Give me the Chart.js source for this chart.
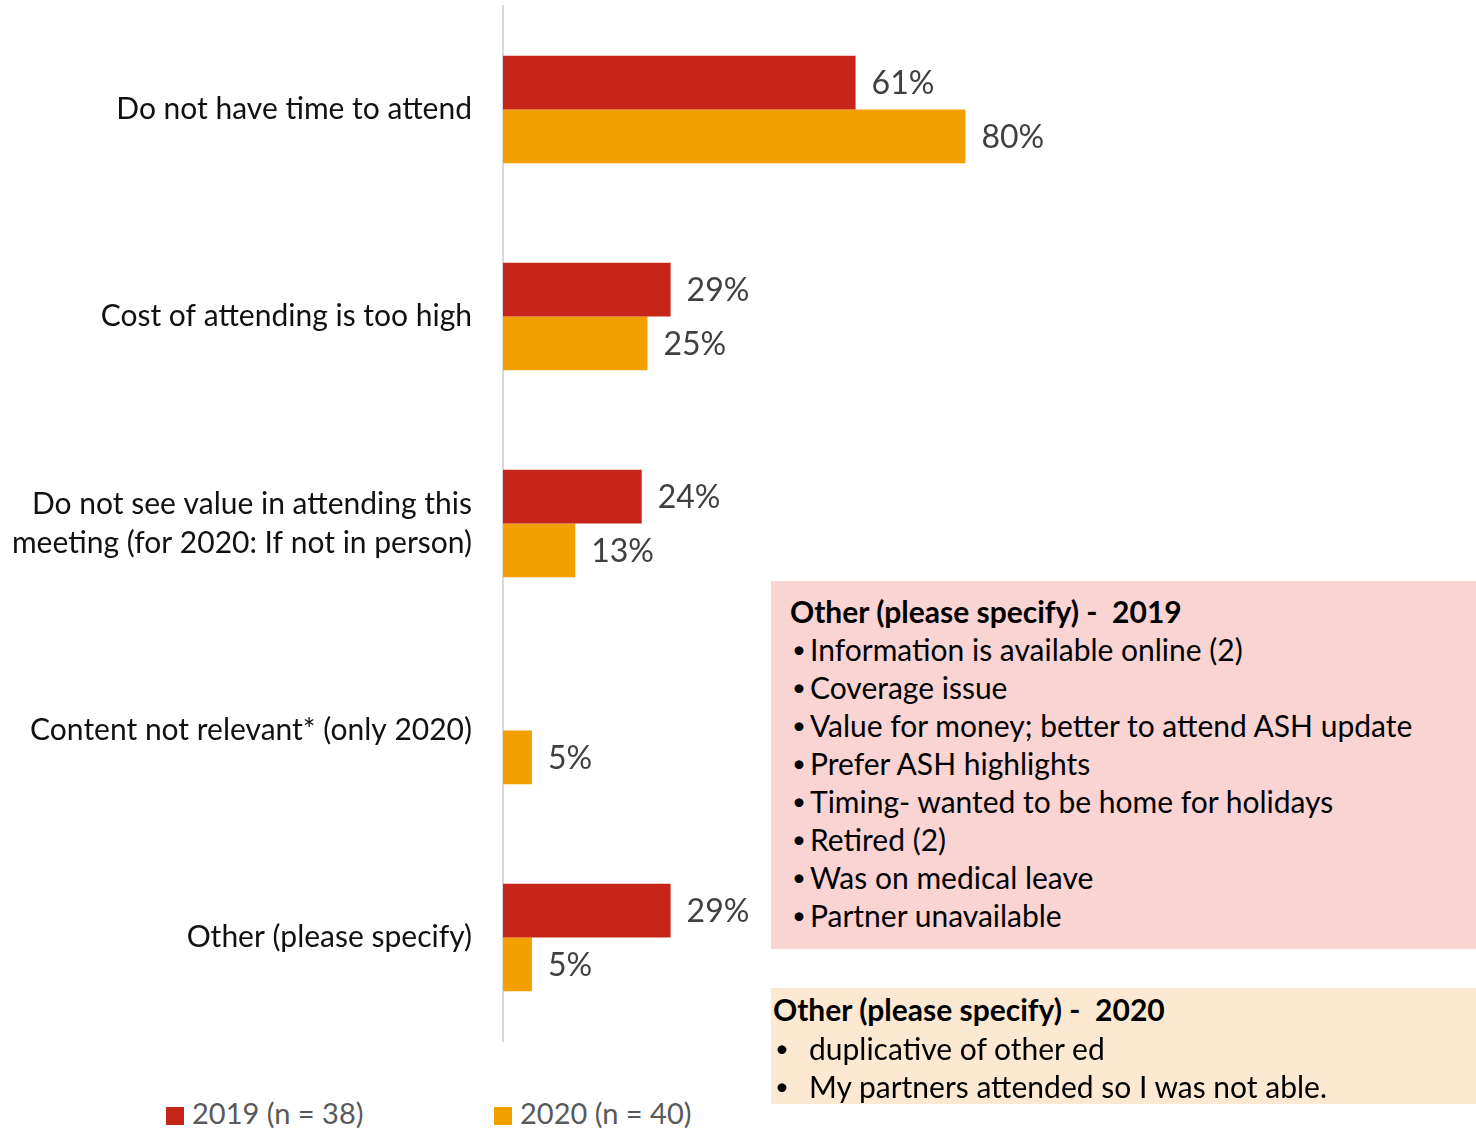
<!DOCTYPE html>
<html>
<head>
<meta charset="utf-8">
<script src="https://cdn.jsdelivr.net/npm/chart.js@4.4.1/dist/chart.umd.min.js"></script>
<style>
  html, body { margin: 0; padding: 0; background: #fff; }
  body { width: 1476px; height: 1129px; position: relative; overflow: hidden; font-family: Lato, sans-serif; }
  #wrap { position: absolute; left: 0; top: 0; width: 1081px; height: 1045px; }
  .legend { position: absolute; top: 1094px; font-size: 29px; color: #595959; line-height: 38px; white-space: nowrap; }
  .legend i { display: inline-block; width: 18px; height: 18px; vertical-align: -1px; margin-right: 8px; }
  .box { position: absolute; left: 771px; width: 705px; color: #000; font-size: 30px; white-space: pre; }
  .box .t { font-weight: bold; }
  .box .l { position: relative; }
  .box .l::before { content: '\2022'; position: absolute; font-size: 24px; }
  #b2019 { top: 581px; height: 368px; background: #f9d4d3; box-sizing: border-box; padding-top: 11px; line-height: 38px; }
  #b2019 .t { padding-left: 19px; }
  #b2019 .l { padding-left: 39px; }
  #b2019 .l::before { left: 21px; }
  #b2020 { top: 988px; height: 116px; background: #fde9d1; box-sizing: border-box; padding-top: 2px; line-height: 38.5px; }
  #b2020 .t { padding-left: 2px; }
  #b2020 .l { padding-left: 38px; }
  #b2020 .l::before { left: 4px; }
</style>
</head>
<body>
<div id="wrap"><canvas id="c"></canvas></div>

<div class="legend" style="left:166px"><i style="background:#c8251a"></i>2019 (n = 38)</div>
<div class="legend" style="left:494px"><i style="background:#f39f00"></i>2020 (n = 40)</div>

<div class="box" id="b2019"></div>
<div class="box" id="b2020"></div>

<script>
// Categorías (eje Y) — la tercera va en dos líneas como en el original
const categories = [
  'Do not have time to attend',
  'Cost of attending is too high',
  ['Do not see value in attending this', 'meeting (for 2020: If not in person)'],
  'Content not relevant* (only 2020)',
  'Other (please specify)'
]
// Porcentajes (null = sin barra en 2019)
const values2019 = [61, 29, 24, null, 29]
const values2020 = [80, 25, 12.5, 5, 5]
const seriesNames = ['2019 (n = 38)', '2020 (n = 40)']

// Textos de las cajas "Other"
const other2019Title = 'Other (please specify) -  2019'
const other2019 = [
  'Information is available online (2)',
  'Coverage issue',
  'Value for money; better to attend ASH update',
  'Prefer ASH highlights',
  'Timing- wanted to be home for holidays',
  'Retired (2)',
  'Was on medical leave',
  'Partner unavailable'
]
const other2020Title = 'Other (please specify) -  2020'
const other2020 = [
  'duplicative of other ed',
  'My partners attended so I was not able.'
]

const RED = '#c8251a'
const ORANGE = '#f39f00'

function fillBox(id, title, lines) {
  const el = document.getElementById(id)
  const t = document.createElement('div')
  t.className = 't'
  t.textContent = title
  el.appendChild(t)
  lines.forEach(s => {
    const d = document.createElement('div')
    d.className = 'l'
    d.textContent = s
    el.appendChild(d)
  })
}
fillBox('b2019', other2019Title, other2019)
fillBox('b2020', other2020Title, other2020)

// Etiquetas de valor a la derecha de cada barra
const valueLabels = {
  id: 'valueLabels',
  afterDatasetsDraw(chart) {
    const ctx = chart.ctx
    ctx.save()
    ctx.font = '32px Lato, sans-serif'
    ctx.fillStyle = '#404040'
    ctx.textAlign = 'left'
    ctx.textBaseline = 'middle'
    chart.data.datasets.forEach((ds, di) => {
      const meta = chart.getDatasetMeta(di)
      meta.data.forEach((bar, i) => {
        const v = ds.data[i]
        if (v == null) return
        ctx.fillText(Math.round(v) + '%', bar.x + 16, bar.y + 1)
      })
    })
    ctx.restore()
  }
}

new Chart(document.getElementById('c'), {
  type: 'bar',
  data: {
    labels: categories,
    datasets: [
      { label: seriesNames[0], data: values2019, backgroundColor: RED },
      { label: seriesNames[1], data: values2020, backgroundColor: ORANGE }
    ]
  },
  options: {
    indexAxis: 'y',
    responsive: true,
    maintainAspectRatio: false,
    animation: false,
    layout: { padding: { top: 6, bottom: 4, right: 0, left: 0 } },
    datasets: { bar: { categoryPercentage: 0.52, barPercentage: 1 } },
    plugins: { legend: { display: false }, tooltip: { enabled: false } },
    scales: {
      x: { display: false, min: 0, max: 100 },
      y: {
        grid: { display: false, drawTicks: false },
        border: { display: true, color: '#d9d9d9', width: 2 },
        ticks: { color: '#111', font: { family: 'Lato', size: 30, lineHeight: 1.3 }, padding: 31 },
        // ancho fijo del eje y sin relleno extra arriba/abajo por las etiquetas
        afterFit: s => { s.width = 503; s.paddingTop = 0; s.paddingBottom = 0 }
      }
    }
  },
  plugins: [valueLabels]
})
</script>
</body>
</html>
